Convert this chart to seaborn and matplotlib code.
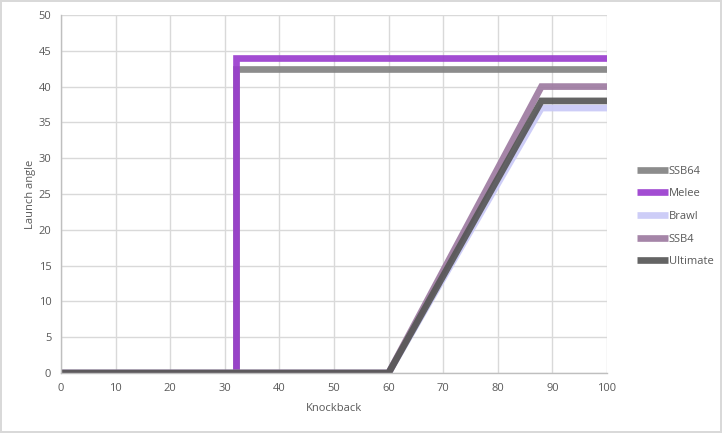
import pandas as pd
import matplotlib
matplotlib.use("Agg")
import matplotlib.pyplot as plt
import seaborn as sns

# data (knockback -> launch angle)
games = ['SSB64', 'Melee', 'Brawl', 'SSB4', 'Ultimate']
ssb64_x = [0, 32, 32, 100]
ssb64_y = [0, 0, 42.5, 42.5]
melee_x = [0, 32, 32, 100]
melee_y = [0, 0, 44, 44]
brawl_x = [0, 60, 88, 100]
brawl_y = [0, 0, 37, 37]
ssb4_x = [0, 60, 88, 100]
ssb4_y = [0, 0, 40, 40]
ult_x = [0, 60, 88, 100]
ult_y = [0, 0, 38, 38]

colors = ['#828282', '#9a3dce', '#c9c9f7', '#9e7ba1', '#575757']

rows = []
for name, xs, ys in zip(games,
                        [ssb64_x, melee_x, brawl_x, ssb4_x, ult_x],
                        [ssb64_y, melee_y, brawl_y, ssb4_y, ult_y]):
    for x, y in zip(xs, ys):
        rows.append({'game': name, 'Knockback': x, 'Launch angle': y})
df = pd.DataFrame(rows)

sns.set_style('white')
plt.rcParams['font.family'] = ['Open Sans', 'DejaVu Sans']

fig = plt.figure(figsize=(7.22, 4.33), dpi=100)
ax = fig.add_axes([0.0845, 0.1386, 0.7562, 0.8268])

sns.lineplot(data=df, x='Knockback', y='Launch angle', hue='game',
             hue_order=games, palette=colors, estimator=None, sort=False,
             units='game', linewidth=4.8, alpha=0.92, ax=ax,
             solid_capstyle='butt', solid_joinstyle='miter')

ax.set_xlim(0, 100)
ax.set_ylim(0, 50)
ax.set_xticks(range(0, 101, 10))
ax.set_yticks(range(0, 51, 5))
ax.grid(True, color='#d9d9d9', linewidth=1)
ax.set_axisbelow(True)
for s in ['top', 'right']:
    ax.spines[s].set_visible(False)
for s in ['left', 'bottom']:
    ax.spines[s].set_color('#bfbfbf')
    ax.spines[s].set_linewidth(1)
ax.tick_params(axis='both', length=0, labelsize=8, labelcolor='#595959', pad=7)
ax.set_xlabel('Knockback', fontsize=8, color='#595959', labelpad=7)
ax.set_ylabel('Launch angle', fontsize=8, color='#595959', labelpad=2)

handles, labels = ax.get_legend_handles_labels()
ax.legend(handles, labels, loc='center left', bbox_to_anchor=(0.868, 0.50),
          bbox_transform=fig.transFigure, frameon=False, fontsize=8,
          labelcolor='#595959', handlelength=2.8, handletextpad=0.1,
          labelspacing=1.05)

fig.patch.set_edgecolor('#d9d9d9')
fig.patch.set_linewidth(1.5)

fig.savefig('out.png', dpi=100, edgecolor=fig.get_edgecolor())
